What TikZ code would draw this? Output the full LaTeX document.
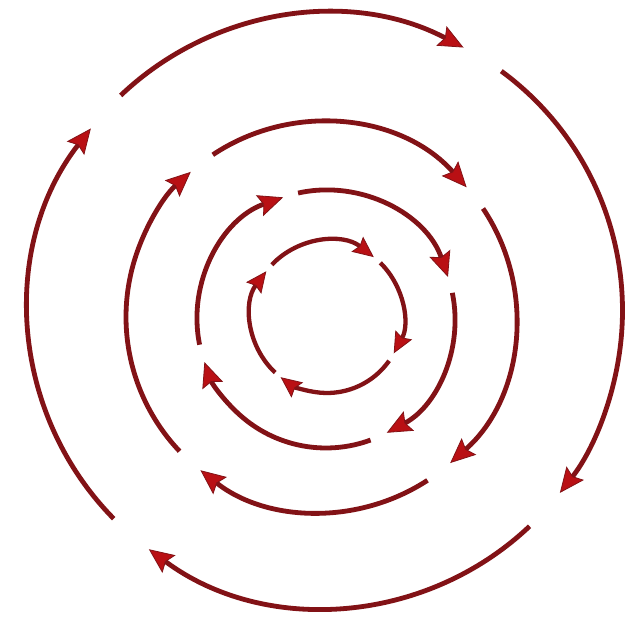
\documentclass[tikz,border=0pt]{standalone}
\usetikzlibrary{arrows.meta}
\definecolor{ringred}{RGB}{130,18,22}
\definecolor{tipred}{RGB}{185,16,20}
\tikzset{
  ringline/.style={draw=ringred, line width=4.8pt,
    -{Stealth[length=25pt, width=22pt, inset=4pt, fill=tipred, line width=0.8pt]}},
  smallring/.style={draw=ringred, line width=4.3pt,
    -{Stealth[length=21pt, width=19pt, inset=3pt, fill=tipred, line width=0.8pt]}}
}
\newcommand\ringarc[5][ringline]{%
  \draw[#1] (#2) ++(#4:#3pt) arc[start angle=#4, end angle=#5, radius=#3pt];}
\begin{document}
\begin{tikzpicture}[x=1pt,y=1pt]
\useasboundingbox (0,0) rectangle (626,617);
\fill[white] (0,0) rectangle (626,617);
\coordinate (c1) at (325.5,306.5);
\coordinate (c2) at (321,300);
\coordinate (c3) at (326,298);
\coordinate (c4) at (327,300);
% outer ring
\ringarc{c1}{297}{224.5}{142.2}
\ringarc{c1}{297}{133.6}{62.3}
\ringarc{c1}{297}{53.7}{-37.9}
\ringarc{c1}{297}{-46.6}{-126.5}
% second ring
\ringarc{c2}{195}{223.5}{131.9}
\ringarc{c2}{195}{123.7}{41.7}
\ringarc{c2}{195}{33.8}{-48.5}
\ringarc{c2}{195}{-56.9}{-128.2}
% third ring
\ringarc{c3}{129}{191.5}{109.4}
\ringarc{c3}{129}{102.5}{19}
\ringarc{c3}{129}{11.7}{-61.9}
\ringarc{c3}{129}{-69.8}{-160.5}
% inner ring
\ringarc[smallring]{c4}{76}{136.6}{52}
\ringarc[smallring]{c4}{76}{45.5}{-28.6}
\ringarc[smallring]{c4}{76}{-35.2}{-127.6}
\ringarc[smallring]{c4}{76}{227}{143}
\end{tikzpicture}
\end{document}
